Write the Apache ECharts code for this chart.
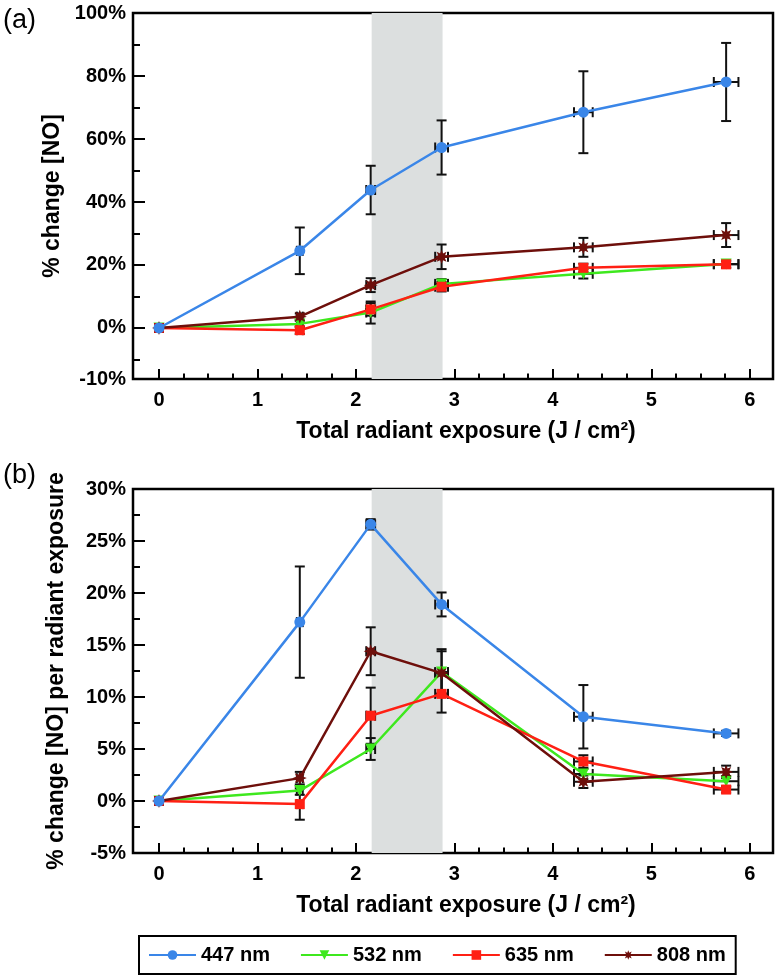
<!DOCTYPE html>
<html><head><meta charset="utf-8">
<script src="https://cdn.jsdelivr.net/npm/echarts@6/dist/echarts.min.js"></script>
<style>html,body{margin:0;padding:0;background:#fff}#c{width:780px;height:980px}</style>
</head><body><div id="c"></div>
<script>
// ---------- data ----------
const exposure = [0, 1.43, 2.15, 2.87, 4.31, 5.76];
const exposureErr = [0, 0.03, 0.045, 0.065, 0.095, 0.125];
const seriesNames = ['447 nm', '532 nm', '635 nm', '808 nm'];

// (a) % change [NO]
const a447 = [0, 24.5, 43.8, 57.3, 68.5, 78.1];
const a447Err = [0, 7.4, 7.7, 8.6, 13.0, 12.4];
const a532 = [0, 1.3, 4.9, 14.0, 17.2, 20.3];
const a532Err = [0, 1.0, 3.5, 1.5, 1.5, 1.2];
const a635 = [0, -0.7, 5.9, 13.1, 19.1, 20.2];
const a635Err = [0, 1.2, 2.0, 1.5, 1.3, 1.0];
const a808 = [0, 3.6, 13.6, 22.6, 25.6, 29.5];
const a808Err = [0, 1.0, 2.2, 3.9, 3.0, 3.8];

// (b) % change [NO] per radiant exposure
const b447 = [0, 17.2, 26.6, 18.9, 8.1, 6.5];
const b447Err = [0, 5.35, 0.5, 1.15, 3.05, 0.25];
const b532 = [0, 1.0, 5.0, 12.4, 2.6, 1.9];
const b532Err = [0, 0.4, 1.05, 2.0, 0.5, 0.5];
const b635 = [0, -0.3, 8.2, 10.3, 3.8, 1.1];
const b635Err = [0, 1.5, 2.7, 1.8, 0.6, 0.3];
const b808 = [0, 2.2, 14.4, 12.3, 1.85, 2.8];
const b808Err = [0, 0.6, 2.3, 2.3, 0.6, 0.6];

// shaded exposure band
const band = [2.16, 2.88];

// ticks & labels
const xTicks = [0, 1, 2, 3, 4, 5, 6];
const xTickLabels = ['0', '1', '2', '3', '4', '5', '6'];
const xMinorTicks = [0.25, 0.5, 0.75, 1.25, 1.5, 1.75, 2.25, 2.5, 2.75, 3.25, 3.5, 3.75, 4.25, 4.5, 4.75, 5.25, 5.5, 5.75];
const yRangeA = [-16.2, 100];
const yLabelValsA = [-16.2, 0, 20, 40, 60, 80, 100];
const yLabelsA = ['-10%', '0%', '20%', '40%', '60%', '80%', '100%'];
const yTicksA = [0, 20, 40, 60, 80];
const yMinorTicksA = [-10, 10, 30, 50, 70, 90];
const yRangeB = [-5, 30];
const yLabelValsB = [-5, 0, 5, 10, 15, 20, 25, 30];
const yLabelsB = ['-5%', '0%', '5%', '10%', '15%', '20%', '25%', '30%'];
const yTicksB = [0, 5, 10, 15, 20, 25];
const yMinorTicksB = [-2.5, 2.5, 7.5, 12.5, 17.5, 22.5, 27.5];
const xRange = [-0.264, 6.236];

// ---------- styling ----------
const FONT = 'Liberation Sans';
const colors = ['#3a86e8', '#3ee81e', '#ff2014', '#6e0f0b'];
const seriesZ = [6, 4, 4, 4];
function starPath() {
  let d = '';
  for (let i = 0; i < 16; i++) {
    const ang = Math.PI / 8 * i - Math.PI / 2;
    const r = i % 2 === 0 ? 10 : 5.2;
    const x = (10 + r * Math.cos(ang)).toFixed(2), y = (10 + r * Math.sin(ang)).toFixed(2);
    d += (i === 0 ? 'M' : 'L') + x + ' ' + y + ' ';
  }
  return 'path://' + d + 'Z';
}
const symbols = [
  {symbol: 'circle', size: 11, rotate: 0},
  {symbol: 'triangle', size: 11, rotate: 180},
  {symbol: 'rect', size: 10, rotate: 0},
  {symbol: starPath(), size: 14, rotate: 0}
];

function labelFmt(vals, labels) {
  return function (v) {
    const i = vals.findIndex(t => Math.abs(t - v) < 1e-6);
    return i >= 0 ? labels[i] : '';
  };
}

const grids = [
  {left: 133, top: 13, width: 640, height: 366, show: true, borderColor: '#000', borderWidth: 2.5, backgroundColor: 'transparent'},
  {left: 133, top: 489, width: 640, height: 364, show: true, borderColor: '#000', borderWidth: 2.5, backgroundColor: 'transparent'}
];

const xTitle = 'Total radiant exposure (J / cm²)';
function mainX(gi) {
  return {
    type: 'value', gridIndex: gi, min: xRange[0], max: xRange[1], position: 'bottom',
    axisLine: {show: false, onZero: false},
    splitLine: {show: false},
    axisTick: {show: true, inside: true, length: 10, lineStyle: {color: '#000', width: 2}, customValues: xTicks},
    axisLabel: {show: true, customValues: xTicks, formatter: labelFmt(xTicks, xTickLabels), margin: 11,
      color: '#000', fontFamily: FONT, fontWeight: 'bold', fontSize: 20},
    name: xTitle, nameLocation: 'middle', nameGap: 41,
    nameTextStyle: {color: '#000', fontFamily: FONT, fontWeight: 'bold', fontSize: 23, padding: [0, 0, 0, 26]}
  };
}
function minorX(gi) {
  return {
    type: 'value', gridIndex: gi, min: xRange[0], max: xRange[1], position: 'bottom',
    axisLine: {show: false, onZero: false}, splitLine: {show: false}, axisLabel: {show: false},
    axisTick: {show: true, inside: true, length: 5.5, lineStyle: {color: '#000', width: 2}, customValues: xMinorTicks}
  };
}
function mainY(gi, range, ticks, lvals, labels, title) {
  return {
    type: 'value', gridIndex: gi, min: range[0], max: range[1], position: 'left',
    axisLine: {show: false, onZero: false}, splitLine: {show: false},
    axisTick: {show: true, inside: true, length: 12, lineStyle: {color: '#000', width: 2}, customValues: ticks},
    axisLabel: {show: true, customValues: lvals, formatter: labelFmt(lvals, labels), margin: 7,
      color: '#000', fontFamily: FONT, fontWeight: 'bold', fontSize: 20},
    name: title, nameLocation: 'middle', nameGap: 65,
    nameTextStyle: {color: '#000', fontFamily: FONT, fontWeight: 'bold', fontSize: 23}
  };
}
function minorY(gi, range, ticks) {
  return {
    type: 'value', gridIndex: gi, min: range[0], max: range[1], position: 'left',
    axisLine: {show: false, onZero: false}, splitLine: {show: false}, axisLabel: {show: false},
    axisTick: {show: true, inside: true, length: 7, lineStyle: {color: '#000', width: 2}, customValues: ticks}
  };
}

function pairs(ys) { return exposure.map((x, i) => [x, ys[i]]); }
function errData(ys, es) { return exposure.map((x, i) => [x, ys[i], exposureErr[i], es[i]]); }

function renderErr(params, api) {
  const x = api.value(0), y = api.value(1), ex = api.value(2), ey = api.value(3);
  const ch = [];
  const st = {stroke: '#111', lineWidth: 2};
  const cap = 5;
  if (ey > 0) {
    const t = api.coord([x, y + ey]), b = api.coord([x, y - ey]);
    ch.push({type: 'line', shape: {x1: t[0], y1: t[1], x2: b[0], y2: b[1]}, style: st});
    ch.push({type: 'line', shape: {x1: t[0] - cap, y1: t[1], x2: t[0] + cap, y2: t[1]}, style: st});
    ch.push({type: 'line', shape: {x1: b[0] - cap, y1: b[1], x2: b[0] + cap, y2: b[1]}, style: st});
  }
  if (ex > 0) {
    const l = api.coord([x - ex, y]), r = api.coord([x + ex, y]);
    ch.push({type: 'line', shape: {x1: l[0], y1: l[1], x2: r[0], y2: r[1]}, style: st});
    ch.push({type: 'line', shape: {x1: l[0], y1: l[1] - cap, x2: l[0], y2: l[1] + cap}, style: st});
    ch.push({type: 'line', shape: {x1: r[0], y1: r[1] - cap, x2: r[0], y2: r[1] + cap}, style: st});
  }
  return {type: 'group', children: ch};
}

const panels = [
  {xi: 0, yi: 0, vals: [a447, a532, a635, a808], errs: [a447Err, a532Err, a635Err, a808Err]},
  {xi: 2, yi: 2, vals: [b447, b532, b635, b808], errs: [b447Err, b532Err, b635Err, b808Err]}
];

const series = [];
panels.forEach(p => {
  series.push({
    type: 'line', xAxisIndex: p.xi, yAxisIndex: p.yi, data: [], z: -1, silent: true,
    markArea: {silent: true, itemStyle: {color: '#dcdfdf'}, data: [[{xAxis: band[0]}, {xAxis: band[1]}]]}
  });
  seriesNames.forEach((n, k) => {
    series.push({
      type: 'custom', xAxisIndex: p.xi, yAxisIndex: p.yi, renderItem: renderErr,
      data: errData(p.vals[k], p.errs[k]), encode: {x: 0, y: 1}, z: 3, silent: true
    });
  });
  seriesNames.forEach((n, k) => {
    series.push({
      name: n, type: 'line', xAxisIndex: p.xi, yAxisIndex: p.yi, data: pairs(p.vals[k]),
      symbol: symbols[k].symbol, symbolSize: symbols[k].size, symbolRotate: symbols[k].rotate,
      showSymbol: true, showAllSymbol: true, z: seriesZ[k],
      lineStyle: {color: colors[k], width: 2.5},
      itemStyle: {color: colors[k], borderWidth: 0},
      animation: false
    });
  });
});

const option = {
  animation: false,
  backgroundColor: '#fff',
  grid: grids,
  xAxis: [mainX(0), minorX(0), mainX(1), minorX(1)],
  yAxis: [
    mainY(0, yRangeA, yTicksA, yLabelValsA, yLabelsA, '% change [NO]'),
    minorY(0, yRangeA, yMinorTicksA),
    mainY(1, yRangeB, yTicksB, yLabelValsB, yLabelsB, '% change [NO] per radiant exposure'),
    minorY(1, yRangeB, yMinorTicksB)
  ],
  legend: {
    data: seriesNames, left: 139, top: 936, orient: 'horizontal',
    borderColor: '#000', borderWidth: 2, padding: [9, 10, 9, 9],
    itemGap: 30, itemWidth: 47, itemHeight: 12,
    textStyle: {color: '#000', fontFamily: FONT, fontWeight: 'bold', fontSize: 20},
    selectedMode: false
  },
  graphic: [
    {type: 'text', left: 3, top: 7, style: {text: '(a)', fontFamily: FONT, fontSize: 27, fill: '#000'}},
    {type: 'text', left: 3, top: 462, style: {text: '(b)', fontFamily: FONT, fontSize: 27, fill: '#000'}}
  ],
  series: series
};

const chart = echarts.init(document.getElementById('c'), null, {renderer: 'canvas'});
chart.setOption(option);
</script>
</body></html>
